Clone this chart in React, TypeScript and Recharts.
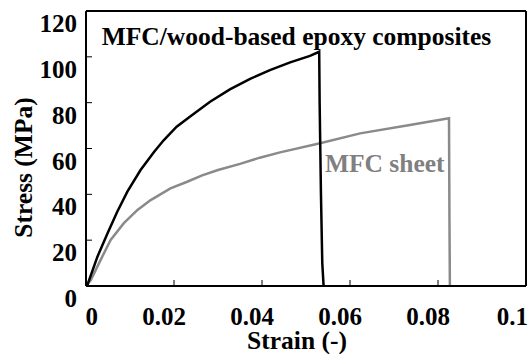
import { LineChart, Line, XAxis, YAxis, ReferenceLine, ReferenceDot } from "recharts";

// MFC/wood-based epoxy composite (black curve)
const compositeStrain = [
  0, 0.0003, 0.0026, 0.0049, 0.0071, 0.0094, 0.0124, 0.0155, 0.0177, 0.0206,
  0.0236, 0.0282, 0.0327, 0.0373, 0.0418, 0.0464, 0.0509, 0.053, 0.0531,
  0.0534, 0.0537, 0.054,
];
const compositeStress = [
  0, 0.4, 12.8, 23.0, 32.4, 41.2, 50.6, 58.6, 63.7, 69.5, 73.9, 80.4, 85.8,
  90.4, 94.2, 97.6, 100.4, 102.2, 80, 40, 10, 0,
];

// MFC sheet (gray curve)
const sheetStrain = [
  0, 0.0011, 0.0033, 0.0056, 0.0086, 0.0117, 0.0147, 0.0192, 0.023, 0.0264,
  0.03, 0.035, 0.0395, 0.0441, 0.0532, 0.0623, 0.0736, 0.0825, 0.0826, 0.0827,
];
const sheetStress = [
  0, 2.6, 11.3, 20.1, 27.4, 33.2, 37.5, 42.6, 45.5, 48.3, 50.6, 53.3, 56.0,
  58.3, 62.3, 66.6, 70.3, 73.2, 30, 0,
];

const xTicks = [0, 0.02, 0.04, 0.06, 0.08, 0.1];
const yTicks = [0, 20, 40, 60, 80, 100, 120];

const TITLE = "MFC/wood-based epoxy composites";
const SHEET_LABEL = "MFC sheet";

const FONT = '"Liberation Serif", "Times New Roman", serif';
const GRAY = "#8a8a8a";

const composite = compositeStrain.map((s, i) => ({ strain: s, stress: compositeStress[i] }));
const sheet = sheetStrain.map((s, i) => ({ strain: s, stress: sheetStress[i] }));

function XTick({ x, y, payload }: any) {
  // labels are right-aligned a bit past the tick, last one kept inside the frame
  const tx = Math.min(x + 12, 528);
  return (
    <g>
      <line x1={x} y1={y} x2={x} y2={y - 6} stroke="#000" strokeWidth={1} />
      <text x={tx} y={y + 39} textAnchor="end" fontFamily={FONT} fontWeight="bold" fontSize={25} fill="#000">
        {String(payload.value)}
      </text>
    </g>
  );
}

function YTick({ x, y, payload }: any) {
  return (
    <g>
      <line x1={x} y1={y} x2={x + 6} y2={y} stroke="#000" strokeWidth={1} />
      <text x={x - 9} y={y + 21} textAnchor="end" fontFamily={FONT} fontWeight="bold" fontSize={25} fill="#000">
        {String(payload.value)}
      </text>
    </g>
  );
}

function XTitle({ viewBox }: any) {
  const { x, y, width } = viewBox;
  return (
    <text x={x + width / 2 - 9} y={y + 63} textAnchor="middle" fontFamily={FONT} fontWeight="bold" fontSize={25.5} fill="#000">
      Strain (-)
    </text>
  );
}

function YTitle({ viewBox }: any) {
  const { y, height } = viewBox;
  return (
    <text
      transform={`translate(31.5, ${y + height / 2 + 19}) rotate(-90)`}
      textAnchor="middle"
      fontFamily={FONT}
      fontWeight="bold"
      fontSize={25.5}
      fill="#000"
    >
      Stress (MPa)
    </text>
  );
}

function dotText(text: string, color: string) {
  return ({ viewBox }: any) => (
    <text x={viewBox.x} y={viewBox.y} textAnchor="start" fontFamily={FONT} fontWeight="bold" fontSize={25.5} fill={color}>
      {text}
    </text>
  );
}

export default function App() {
  return (
    <div style={{ position: "absolute", left: 0, top: 0, background: "#fff" }}>
      <LineChart width={529} height={354} margin={{ top: 11, right: 3, bottom: 0, left: 0 }}>
        <XAxis
          dataKey="strain"
          type="number"
          domain={[0, 0.1]}
          ticks={xTicks}
          interval={0}
          height={68}
          tickSize={0}
          tickMargin={0}
          tickLine={false}
          tick={<XTick />}
          axisLine={{ stroke: "#000", strokeWidth: 2 }}
          allowDataOverflow
          label={<XTitle />}
        />
        <YAxis
          type="number"
          domain={[0, 120]}
          ticks={yTicks}
          interval={0}
          width={86}
          tickSize={0}
          tickMargin={0}
          tickLine={false}
          tick={<YTick />}
          axisLine={{ stroke: "#000", strokeWidth: 2 }}
          allowDataOverflow
          label={<YTitle />}
        />
        <ReferenceLine y={120} stroke="#000" strokeWidth={2} />
        <ReferenceLine x={0.1} stroke="#000" strokeWidth={2} />
        <Line
          data={sheet}
          dataKey="stress"
          type="linear"
          stroke={GRAY}
          strokeWidth={2.5}
          dot={false}
          isAnimationActive={false}
        />
        <Line
          data={composite}
          dataKey="stress"
          type="linear"
          stroke="#000"
          strokeWidth={2.5}
          dot={false}
          isAnimationActive={false}
        />
        <ReferenceDot x={0.00357} y={105.2} r={0} fill="none" stroke="none" label={dotText(TITLE, "#000")} />
        <ReferenceDot x={0.0543} y={49.9} r={0} fill="none" stroke="none" label={dotText(SHEET_LABEL, "#808080")} />
      </LineChart>
    </div>
  );
}
